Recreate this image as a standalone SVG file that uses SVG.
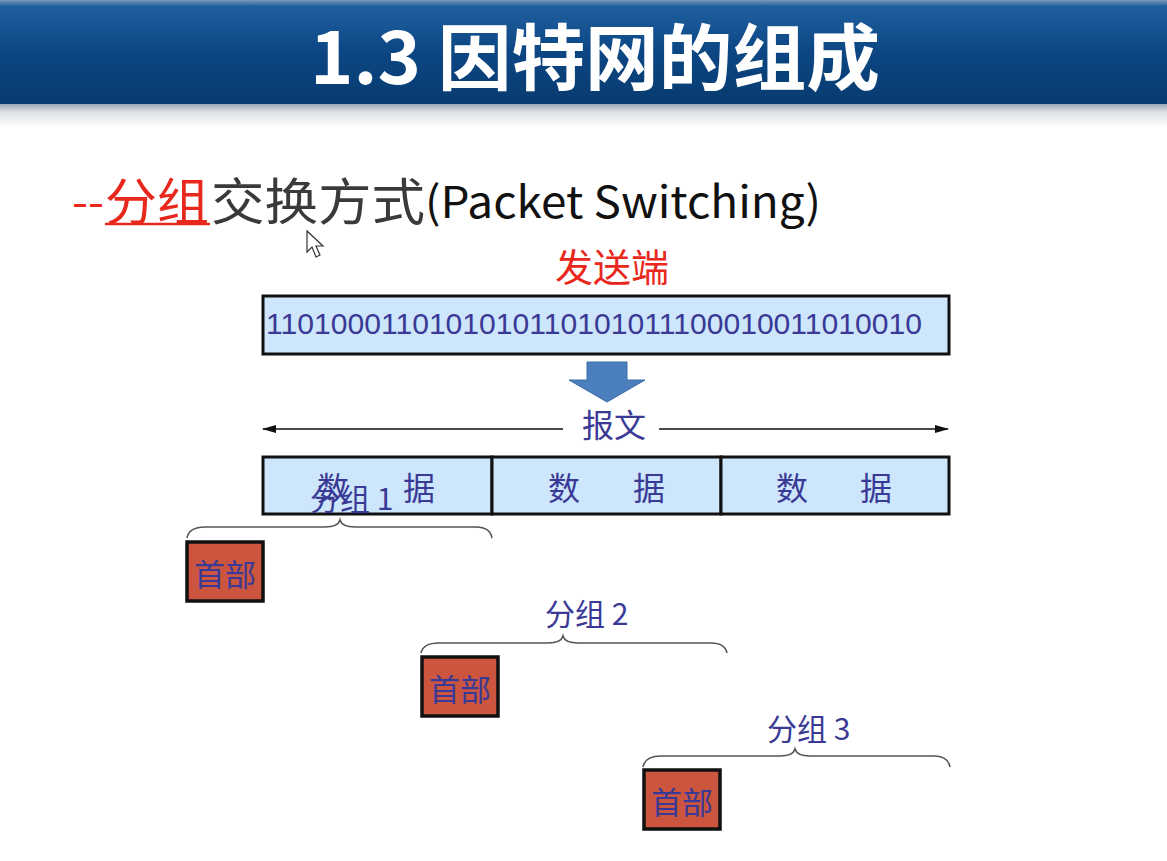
<svg xmlns="http://www.w3.org/2000/svg" width="1167" height="861" viewBox="0 0 1167 861">
<defs>
<linearGradient id="hdr" x1="0" y1="0" x2="0" y2="1">
<stop offset="0" stop-color="#7d99b8"/>
<stop offset="0.06" stop-color="#1f5f9f"/>
<stop offset="0.5" stop-color="#0c4683"/>
<stop offset="1" stop-color="#083b70"/>
</linearGradient>
<linearGradient id="shadow" x1="0" y1="0" x2="0" y2="1">
<stop offset="0" stop-color="#9aa7b5"/>
<stop offset="0.35" stop-color="#dfe3e8"/>
<stop offset="1" stop-color="#ffffff"/>
</linearGradient>
<marker id="ah" viewBox="0 0 14 8" refX="13" refY="4" markerWidth="14" markerHeight="8" markerUnits="userSpaceOnUse" orient="auto-start-reverse">
<path d="M0,0 L14,4 L0,8 z" fill="#111"/>
</marker>
<style>
.cjk{font-family:"Noto Sans CJK SC","Noto Sans",sans-serif}
.blue{fill:#3a3a96}
.box{fill:#cde6fb;stroke:#111;stroke-width:3}
.hdrbox{fill:#cc5540;stroke:#111;stroke-width:3.5}
.brace{fill:none;stroke:#555;stroke-width:1.6}
</style>
</defs>
<rect width="1167" height="861" fill="#ffffff"/>
<g id="header">
<rect x="0" y="0" width="1167" height="104" fill="url(#hdr)"/>
<rect x="0" y="104" width="1167" height="24" fill="url(#shadow)"/>
<text x="595" y="84" text-anchor="middle" class="cjk" font-size="72" font-weight="bold" fill="#ffffff" textLength="570" lengthAdjust="spacingAndGlyphs">1.3 因特网的组成</text>
</g>
<g id="subtitle" class="cjk" font-size="44">
<text x="72" y="218" fill="#e8281c" textLength="32" lengthAdjust="spacingAndGlyphs">--</text>
<text x="105" y="220" fill="#e8281c" font-size="50" textLength="104" lengthAdjust="spacingAndGlyphs">分组</text>
<line x1="105" y1="224" x2="210" y2="224" stroke="#e8281c" stroke-width="2.5"/>
<text x="211" y="220" fill="#3a3a3a" font-size="50" textLength="214" lengthAdjust="spacingAndGlyphs">交换方式</text>
<text x="425" y="218" fill="#111111" textLength="396" lengthAdjust="spacingAndGlyphs">(Packet Switching)</text>
</g>
<g id="cursor">
<path d="M307,231 L307,252 L312,247 L316,257 L320,255 L316,246 L323,246 Z" fill="#ffffff" stroke="#333" stroke-width="1.2"/>
</g>
<g id="sender">
<text x="612" y="281" text-anchor="middle" class="cjk" font-size="38" fill="#e8281c">发送端</text>
</g>
<g id="bits">
<rect class="box" x="263" y="296" width="686" height="58"/>
<text x="266" y="334" font-family="Liberation Sans, Arial, sans-serif" font-size="30" class="blue" textLength="656" lengthAdjust="spacingAndGlyphs">1101000110101010110101011100010011010010</text>
</g>
<g id="down-arrow">
<path d="M587,362 L627,362 L627,380 L645,380 L607,402 L569,380 L587,380 Z" fill="#4a7ebc" stroke="#3d6ea9" stroke-width="1"/>
</g>
<g id="connectors">
<line x1="263" y1="429" x2="563" y2="429" stroke="#111" stroke-width="1.5" marker-start="url(#ah)"/>
<line x1="659" y1="429" x2="948" y2="429" stroke="#111" stroke-width="1.5" marker-end="url(#ah)"/>
<path class="brace" d="M187,538 Q189,527 205,527 L325,527 Q338,527 340,520 Q342,527 355,527 L476,527 Q490,527 492,538"/>
<path class="brace" d="M421,653 Q423,643 439,643 L548,643 Q561,643 563,636 Q565,643 578,643 L711,643 Q725,643 727,653"/>
<path class="brace" d="M643,767 Q645,756 661,756 L780,756 Q793,756 795,749 Q797,756 810,756 L934,756 Q948,756 950,767"/>
</g>
<g id="message-label">
<text x="614" y="437" text-anchor="middle" class="cjk blue" font-size="32">报文</text>
</g>
<g id="data1">
<rect class="box" x="263" y="457" width="229" height="57"/>
<text x="317" y="500" class="cjk blue" font-size="32">数</text>
<text x="403" y="500" class="cjk blue" font-size="32">据</text>
</g>
<g id="data2">
<rect class="box" x="492" y="457" width="229" height="57"/>
<text x="548" y="500" class="cjk blue" font-size="32">数</text>
<text x="633" y="500" class="cjk blue" font-size="32">据</text>
</g>
<g id="data3">
<rect class="box" x="721" y="457" width="228" height="57"/>
<text x="776" y="500" class="cjk blue" font-size="32">数</text>
<text x="860" y="500" class="cjk blue" font-size="32">据</text>
</g>
<g id="packet1">
<text x="310" y="510" class="cjk blue" font-size="30">分组 1</text>
<rect class="hdrbox" x="187" y="542" width="76" height="59"/>
<text x="225" y="586" text-anchor="middle" class="cjk blue" font-size="31">首部</text>
</g>
<g id="packet2">
<text x="545" y="625" class="cjk blue" font-size="30">分组 2</text>
<rect class="hdrbox" x="422" y="657" width="76" height="59"/>
<text x="460" y="701" text-anchor="middle" class="cjk blue" font-size="31">首部</text>
</g>
<g id="packet3">
<text x="767" y="740" class="cjk blue" font-size="30">分组 3</text>
<rect class="hdrbox" x="644" y="770" width="76" height="59"/>
<text x="682" y="814" text-anchor="middle" class="cjk blue" font-size="31">首部</text>
</g>
</svg>
